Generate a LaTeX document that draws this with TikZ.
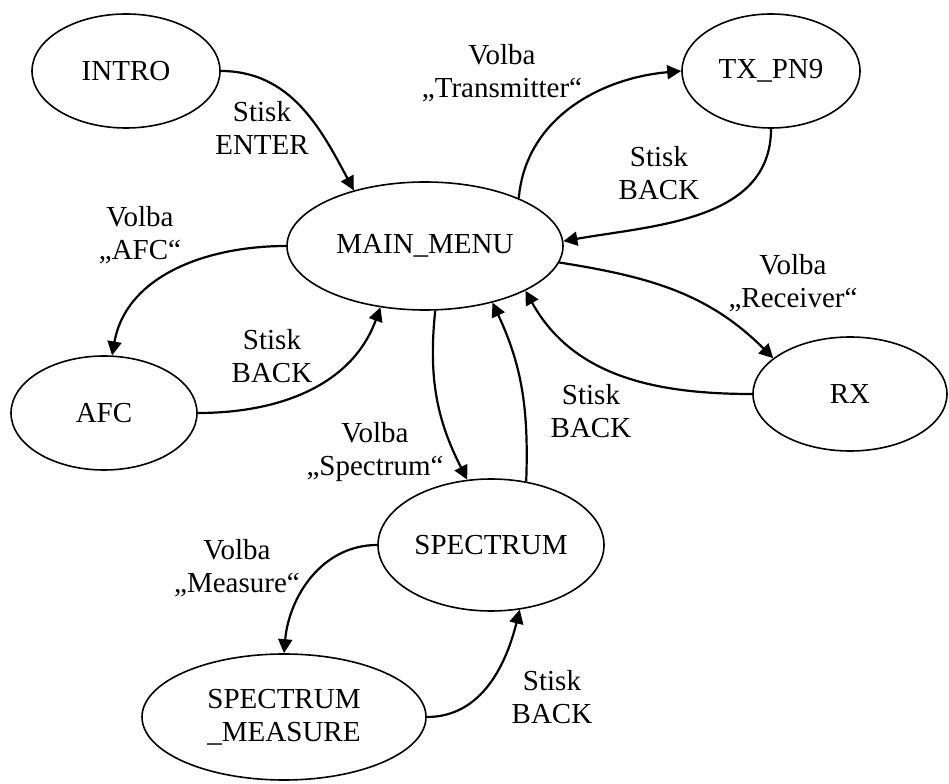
\documentclass[tikz,border=0pt]{standalone}
\usepackage{fontspec}
\setmainfont{Liberation Serif}
\usetikzlibrary{shapes.geometric,arrows.meta}

\begin{document}
\begin{tikzpicture}[x=0.5pt,y=0.5pt,
	font=\fontsize{14.5}{16.5}\selectfont,
	state/.style={ellipse,draw,line width=0.8pt,inner sep=0pt,align=center},
	txt/.style={align=center,inner sep=0pt},
	trans/.style={->,line width=1.1pt},
	>={Triangle[length=7pt,width=7pt]}]
	\useasboundingbox (0,0) rectangle (949,783);
	% stavy
	\node[state,minimum width=94pt,minimum height=57pt] (intro) at (126,712) {INTRO};
	\node[state,minimum width=89pt,minimum height=57pt] (tx) at (771,712) {TX\_PN9};
	\node[state,minimum width=138pt,minimum height=64pt] (main) at (425,537) {MAIN\_MENU};
	\node[state,minimum width=93pt,minimum height=57pt] (afc) at (104,370) {AFC};
	\node[state,minimum width=97pt,minimum height=57pt] (rx) at (850,389) {RX};
	\node[state,minimum width=113pt,minimum height=66pt] (spec) at (491,238) {SPECTRUM};
	\node[state,minimum width=142pt,minimum height=63pt] (meas) at (284,66) {SPECTRUM\\\_MEASURE};
	% prechody
	\draw[trans] (intro.east) to[out=0,in=118] (main.142);
	\draw[trans] (main.west) to[out=180,in=80] (afc.82);
	\draw[trans] (afc.east) to[out=0,in=250] (main.234);
	\draw[trans] (main.27) to[out=85,in=185] (tx.west);
	\draw[trans] (tx.south) to[out=270,in=10] (main.2);
	\draw[trans] (main.353) to[out=-9,in=135] (rx.155);
	\draw[trans] (rx.west) to[out=180,in=-61] (main.336);
	\draw[trans] (main.279) to[out=264,in=117] (spec.110);
	\draw[trans] (spec.61) to[out=88,in=-65] (main.320);
	\draw[trans] (spec.west) to[out=180,in=85] (meas.north);
	\draw[trans] (meas.east) to[out=0,in=256] (spec.294);
	% popisky
	\node[txt] (l-enter) at (262,655) {Stisk\\ENTER};
	\node[txt] (l-afc) at (140,548) {Volba\\„AFC“};
	\node[txt] (l-afcback) at (272,427) {Stisk\\BACK};
	\node[txt] (l-tx) at (502,710) {Volba\\„Transmitter“};
	\node[txt] (l-txback) at (659,610) {Stisk\\BACK};
	\node[txt] (l-rx) at (793,500) {Volba\\„Receiver“};
	\node[txt] (l-rxback) at (591,372) {Stisk\\BACK};
	\node[txt] (l-spec) at (375,331) {Volba\\„Spectrum“};
	\node[txt] (l-meas) at (237,215) {Volba\\„Measure“};
	\node[txt] (l-measback) at (552,86) {Stisk\\BACK};
\end{tikzpicture}
\end{document}
